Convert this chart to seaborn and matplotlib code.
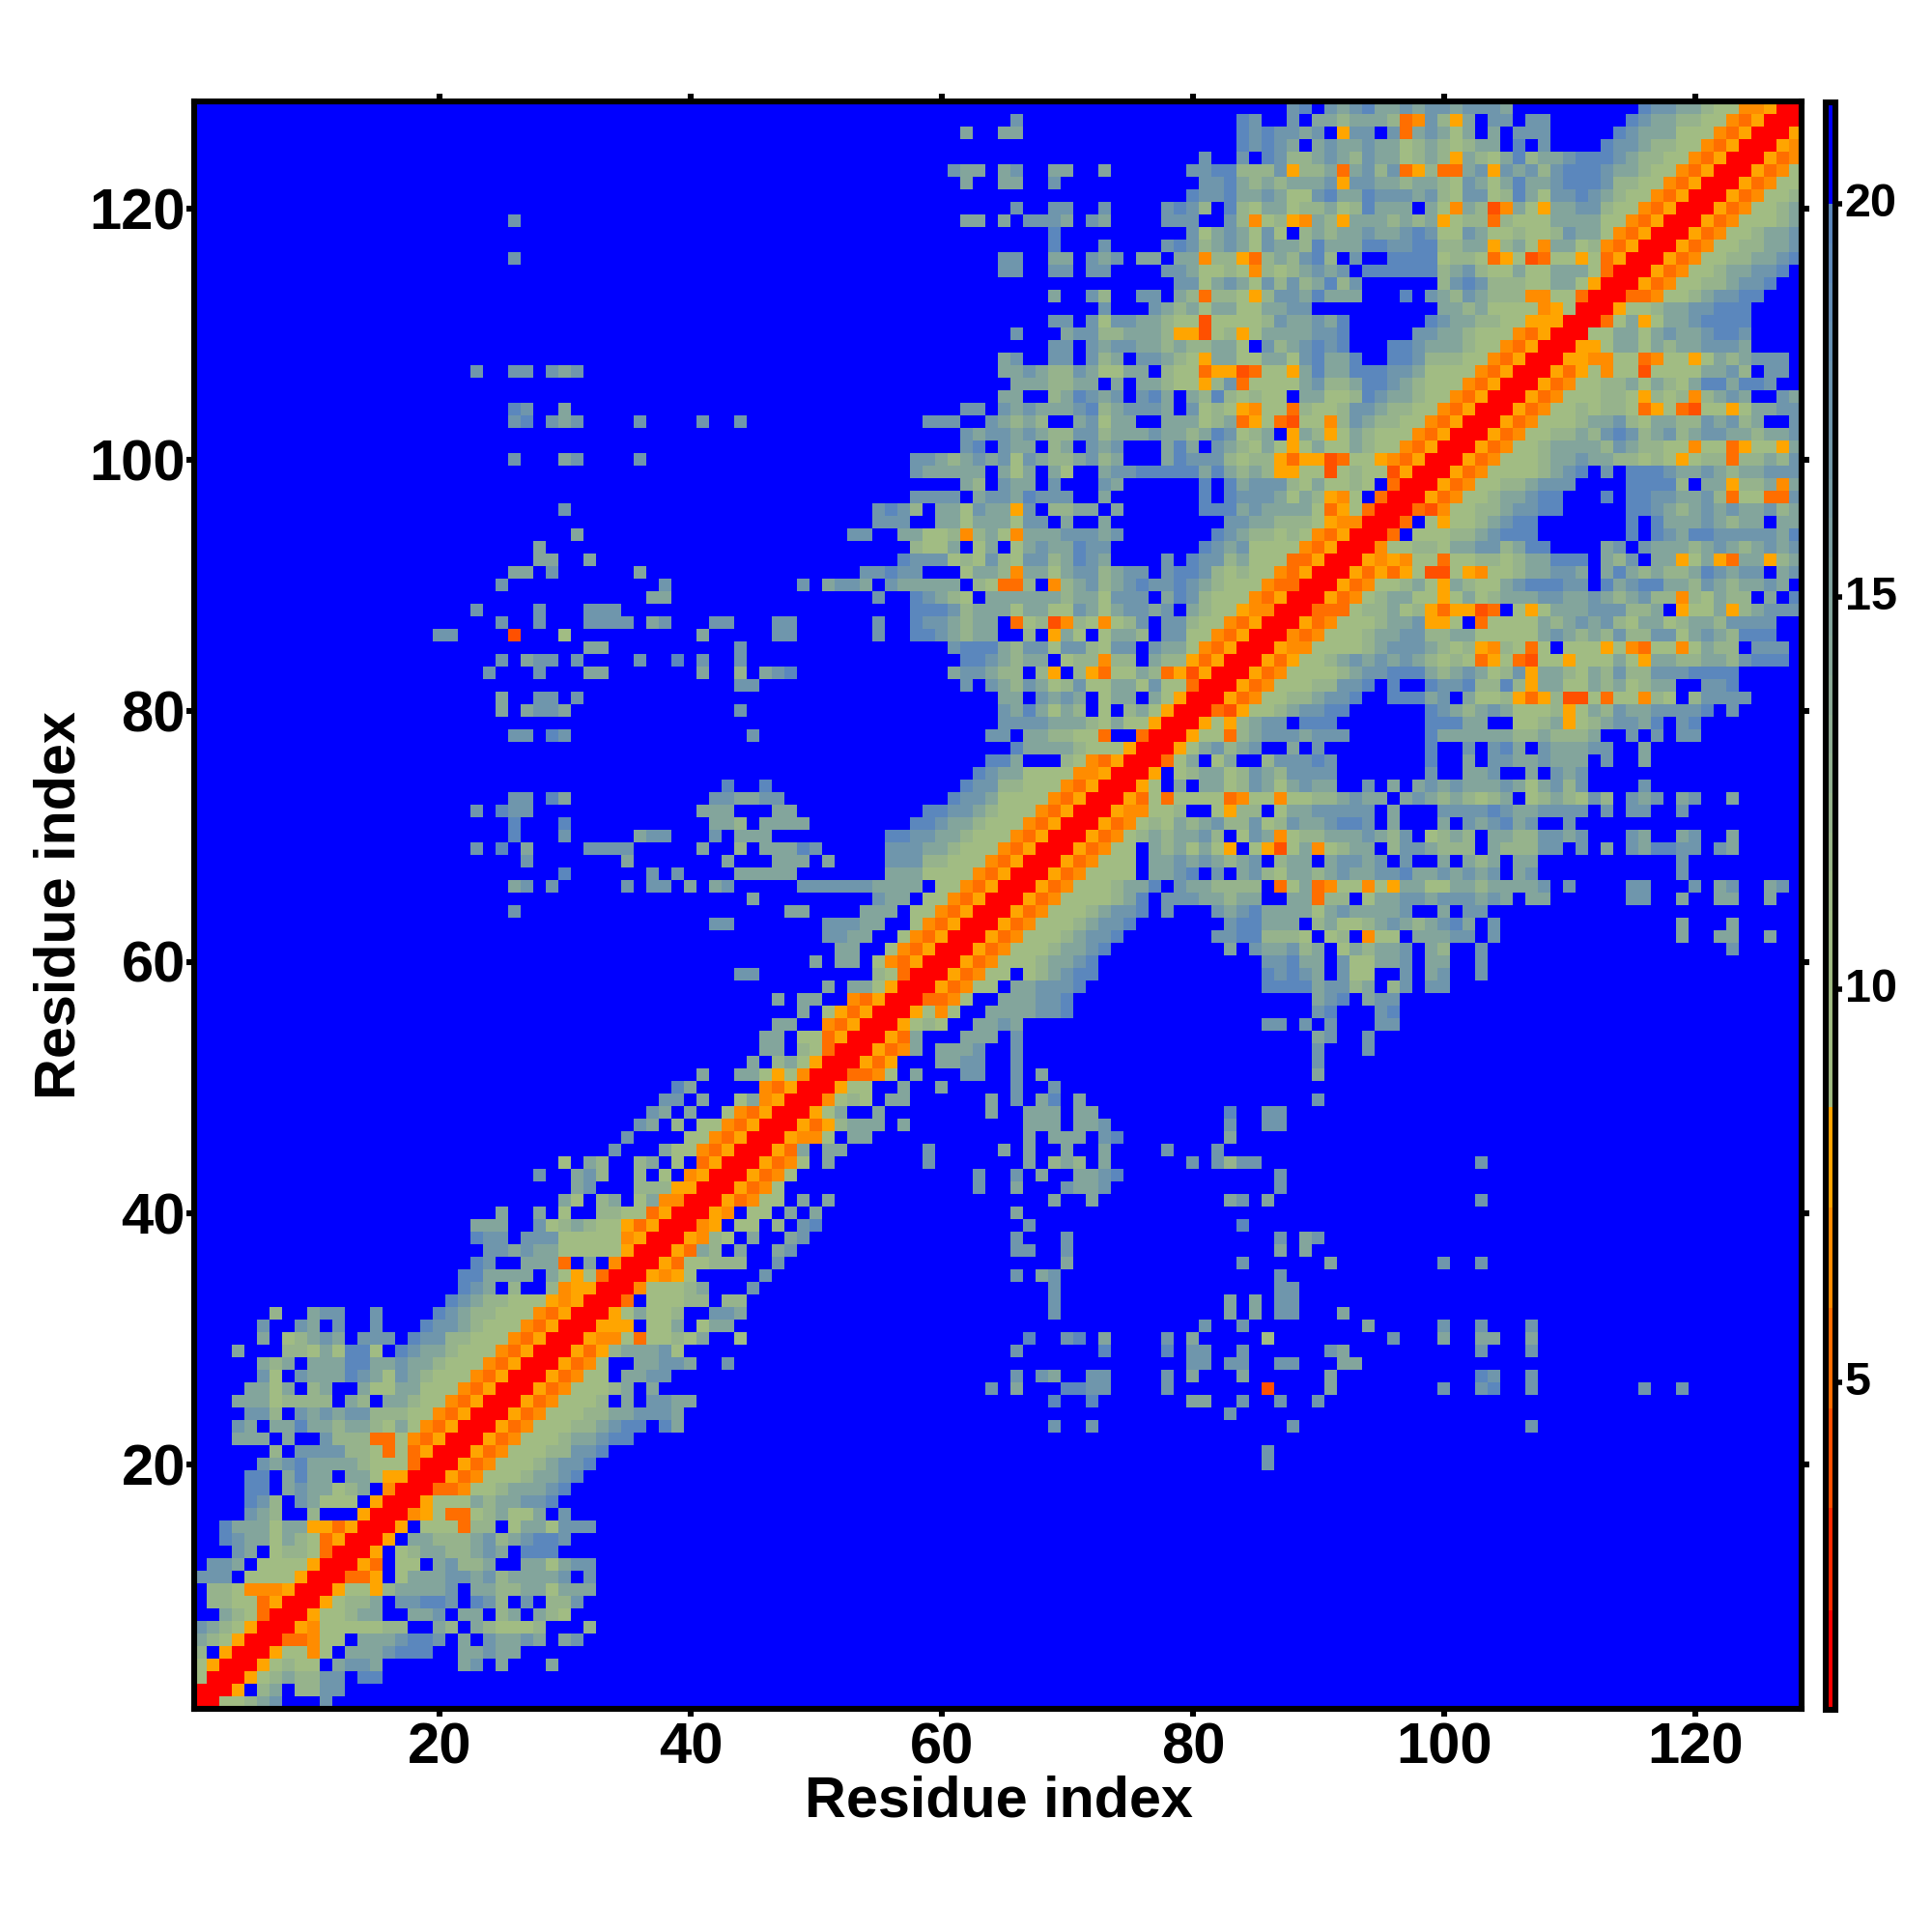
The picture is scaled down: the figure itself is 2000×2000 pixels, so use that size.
import numpy as np
import matplotlib
matplotlib.use("Agg")
import matplotlib.pyplot as plt
from matplotlib.colors import ListedColormap, BoundaryNorm, LinearSegmentedColormap
from matplotlib.transforms import ScaledTranslation
import seaborn as sns

N_RESIDUES = 128
# distance read for each colour class of the picture
CODE_VALUES = {'r': 1.5, 's': 2.8, 'q': 4.0, 't': 5.3, 'o': 6.6, 'y': 7.9,
               'g': 9.5, 'h': 12.0, 'i': 14.5, 'j': 17.0, 'k': 19.5, '.': 21.0}
# upper triangle of the symmetric map: row residue -> "first column:codes"
ROWS = {
1: "2:rgghij 11:j", 2: "3:ry.hi.hhjj", 3: "4:ryghihhjj.kk", 4: "5:ryghgg.ijji 22:ij.i 29:i",
5: "6:ryggog.iiijkkk 22:iijii", 6: "7:rttogg.iiijkkj 22:i.jiiji.ij",
7: "8:ryoggggghh..ih.ihgggh 32:h", 8: "9:rygghii..iij.ii.hi.ihg",
9: "10:ryghhi.jjkkj.kjh.j.hhj", 10: "11:ryggyhiiiij.iihhiigiii",
11: "12:rtty.giiijjijhiiiij.j", 12: "13:ryt.gg.ijhhi..iigijj",
13: "14:ry.ghiihhiji.kkk", 14: "15:ry.iihhhijhijkkj", 15: "16:ry.gggthh.giigjjj",
16: "17:roygttghiggi.j", 17: "18:rygggihiijjk", 18: "19:rttogghiiijk",
19: "20:rytoggghiijk", 20: "21:rytoggghijjk 86:j", 21: "22:rytoggghhjjk 86:j",
22: "23:rytoggghiijkk", 23: "24:rytoggghhijkk.ki 69:j 72:j 88:j 107:j",
24: "25:rytoggghhiijjji 83:j", 25: "26:rytogggh.i.jjii 69:k 72:k 80:ii 84:j 87:j 90:j",
26: "27:rytoggghi.i 64:j 66:i 70:kk 72:jj 78:j 86:q 91:i 100:j 103:jk 107:j 116:j 119:j",
27: "28:rytogg.iijj 66:j 68:ji 72:jj 78:j 80:i 84:i 91:i 103:kj 107:j",
28: "29:rytog..iijji 43:j 80:jj 83:jj 87:jj 92:ii",
29: "30:rytyhiiijg 66:j 73:k 78:k 80:jj 84:j 91:ji 103:j 107:j",
30: "31:ryoogtgghgi 44:g 67:k 70:jk 73:i 78:j 80:i 86:g 96:j 100:i 103:ii 107:i",
31: "32:ryyy.ggi.gii 81:j 84:j 94:i 100:j 103:j 107:j",
32: "33:rygiggh..jji 69:j 83:i 85:i 87:jj 92:i", 33: "34:rt.ggghh.hh 69:j 83:i 85:i 87:jj",
34: "35:roggghi 45:j 69:j 87:jj", 35: "36:ryoyg 46:j 66:j 68:ij 87:j",
36: "37:rytgghhh..j 70:i 84:j 91:i 100:j 103:j", 37: "38:rytih.i..ij 66:jj 70:j 87:i 89:i",
38: "39:ryohg.i..ij 66:j 70:j 87:j 89:ij", 39: "40:roy.gg.h.jk 67:j 84:k",
40: "41:ryo.gg.i.i 66:i", 41: "42:rytogg.i.i 69:i 72:i 83:ij 86:i 103:j",
42: "43:rytog 63:j 66:i 70:jiij 87:j", 43: "44:rytog 63:j 66:j 68:i 71:iijk 87:j",
44: "45:rytog.i 59:j 67:i 69:hih 73:i 80:j 82:jhjj 103:j",
45: "46:ryti.ii 59:j 65:i 67:i 70:i 73:i 78:j 82:j", 46: "47:ryoog.ii 67:i 69:iii 73:jk 83:i",
47: "48:rytyhiii.i 67:iii 71:iij 83:j 86:jj", 48: "49:rygi..i 64:i 67:iii 71:ii 83:k 86:jj",
49: "50:roghg.ii 64:i 66:j 68:ik 71:i 90:j", 50: "51:rygg..i 60:i 66:j 69:j",
51: "52:rttog.i 62:jj 66:j 68:i 90:i", 52: "53:ryty...iijj 66:j 90:j",
53: "54:rytoi.iiij 66:j 90:j 94:j", 54: "55:ryti 62:iii 66:j 90:ij 94:j",
55: "56:ryghg 63:iiji 86:jj.j.j 95:jj", 56: "57:rygog 64:iiiijjk 90:jk 95:jk",
57: "58:rttog 65:iiijjk 90:ijk.ijj", 58: "59:rytogg.iijjjk 86:kkkkijjhi.hj.jj",
59: "60:rytogg.ghijkk 86:kjkji.jgg..j.ij 103:j", 60: "61:rytoggghiijk 86:jjkii.jggiij.ii 103:j",
61: "62:rytoggghiijk 83:i.jiijhi.gihiij.ih 103:j 123:j",
62: "63:rytoggghijjk 82:jjkkhhhg.gh.ogg.iiijj.j 119:i 122:ii 126:i",
63: "64:rytoggghijjk 83:jkkiii.higghijihijki.j 119:i 123:i",
64: "65:rytoggghijjk 78:j 82:jijkiiiigijiiiij..i.jj",
65: "66:rytogggghik 78:jjjiihii..iithh.giijjijjjiji.ii 115:jj 119:i 122:ii 126:i",
66: "67:rytoggghiik 79:jiihhhh.tgitoggogyiiggiihiiiij.j 115:jj 120:j 122:ij 126:ij",
67: "68:rytogggg.iijk.j.ijhgiihijiijjkiijijij.ij 119:j",
68: "69:rytoggg.iijijihij.hii.ijjij.j..i.ihi.ii 119:j",
69: "70:rytogg.ihigigy.gyqgioghii.hjjihhh.ihhhjj.j 113:i 115:jikkjj 122:ji",
70: "71:rytoghihiijh.gjioghhiiijihj.ghih.iihhjjij 115:ji 119:ij 123:i",
71: "72:rytoghgihijhhjghjiijkkj.i...i.jijkij..j",
72: "73:ryooggh..gyhh.giijjjjj.i...jjjjkjiijjjj.j.jj..j",
73: "74:rytgtggggtoggogghhijii.ijihihghi.ghihgjh.jij.ij..i",
74: "75:ryg.i.iighjigijii..j.i.ijijiiijigijhj 116:j",
75: "76:ry.ghiighjihjjjj.......j..iij..i.jij",
76: "77:rtgi.gi..hjjjkj.......k..i.jjiijiii.j 116:i",
77: "78:rygijhij..i.j........k..j.jki.jiiijj 116:i",
78: "79:ryggthijjjijjj......kiiiiiihhihhhi..j.j.jj",
79: "80:rygyhijj.kkk.......kkkii..gghiyghijjik.jk",
80: "81:rtqygghijjkk......kjihijiggghygihjiijjjjk.j",
81: "82:rytogghhijjk..kkkij.igghytyhqqgtggohg.hjjjj",
82: "83:rytoggghhjjk.k..kjjkhhkhyiiggihighii..jjk",
83: "84:rytogggghijjkkkihijighjyiihgihjhhjjjkkkk",
84: "85:rytygghijijijihghgtygtqggygggigyiihhiihjkkk",
85: "86:ryoogggghijjjihghyohgtg.gggygotggogihh.jjj",
86: "87:rotoggghiijjhhiigggggijihihjhhjjgijihkkk",
87: "88:rytoggghiijyyg.tggggihijijhgiighiihjjjj",
88: "89:rtttghhighytyyqt.gygiiijjjhhi.yggiyhijjj",
89: "90:rytoghiiggygighiiijjiijihijhhohgihh.i.k",
90: "91:rytogghigyihggijkkkjj.kijkkiihjihiiji",
91: "92:rytytygqqgyogghiijji.ikihihhikjijj.ij",
92: "93:ryoyoggtgghhghiikkk.ihj.iiygiytiiyhi",
93: "94:rogghhgiijjhikk....ij.jiiihijihijij",
94: "95:rt.ggghhijkkk.......k.kjikkjjjjjik",
95: "96:rt.gygghijkk.......k.kiiijihii.ii",
96: "97:rtqogghhijjkk.....kkjihijijiijhi",
97: "98:rytogghiijkk...k.kkjjiijhtggttj",
98: "99:rytogghhijjj....kkkkh.iiyhhioi",
99: "100:rytogggghijk.j.kkkjiijihiijjj",
100: "101:rytoggghiijiihhghgyghhthhihj",
101: "102:rytogghiiiihjihhggoggtyggyi",
102: "103:rytogghhihjkjhijhijjiihiij",
103: "104:rytoggghiijhgiihhjijhi..j",
104: "105:rytogghghhgtygtqggygiijj",
105: "106:rytoggghhgyhghohiji..ji",
106: "107:rytogghhigihgikkikkj",
107: "108:rytygoggqggggiijh.jj",
108: "109:ryyooggtoggygihijjj",
109: "110:ryygiigihiijjji",
110: "111:rggiigijiijkkj",
111: "112:rtgiygiijkkkk",
112: "113:rygghiijjkkk",
113: "114:rttogghijjkk",
114: "115:rytogghhijjk",
115: "116:rytogghiijjk",
116: "117:rytogghhiijk",
117: "118:rytogghhiij",
118: "119:rytogghiij",
119: "120:rytoggghi",
120: "121:rytogghi",
121: "122:rytoggh",
122: "123:rytogg",
123: "124:rytog",
124: "125:ryto",
125: "126:ryo",
126: "127:ry",
127: "128:r",
}
XTICKS = [20, 40, 60, 80, 100, 120]
CBAR_TICKS = [5, 10, 15, 20]
WARM_EDGES = [0.83, 2.1, 3.4, 4.67, 5.95, 7.22, 8.5]
WARM_COLORS = ['#FF0000', '#FF2A00', '#FF5000', '#FF6E00', '#FF8C00', '#FFA500']
COOL_STOPS = ['#A1BC82', '#A0BB84', '#8FAE92', '#7FA1A0', '#6C94AE', '#5B87BD']
BLUE = '#0000FF'

matrix = np.full((N_RESIDUES, N_RESIDUES), CODE_VALUES['.'])
np.fill_diagonal(matrix, CODE_VALUES['r'])
for row, text in ROWS.items():
    for segment in text.split():
        start, codes = segment.split(':')
        for offset, code in enumerate(codes):
            col = int(start) + offset
            if col <= N_RESIDUES:
                matrix[row - 1, col - 1] = CODE_VALUES[code]
                matrix[col - 1, row - 1] = CODE_VALUES[code]

cool_edges = list(np.linspace(8.5, 20.0, 24))
edges = WARM_EDGES[:-1] + cool_edges + [21.3]
cool_map = LinearSegmentedColormap.from_list('cool', COOL_STOPS)
cool_cols = [cool_map(i / 22) for i in range(23)]
cmap = ListedColormap(WARM_COLORS + cool_cols + [BLUE])
norm = BoundaryNorm(edges, cmap.N)

sns.set_theme(style='white')
plt.rcParams['font.family'] = ['Liberation Sans', 'DejaVu Sans']
plt.rcParams['font.weight'] = 'bold'
W = H = 2000
fig = plt.figure(figsize=(10, 10), dpi=200, facecolor='white')


def rect(left, top, right, bottom):
    return [left / W, 1 - bottom / H, (right - left) / W, (bottom - top) / H]


ax = fig.add_axes(rect(201.4, 105.0, 1865.4, 1769.0))
cax = fig.add_axes(rect(1890, 105.5, 1900, 1770))
sns.heatmap(matrix, ax=ax, cmap=cmap, norm=norm, cbar_ax=cax,
            cbar_kws={'ticks': CBAR_TICKS, 'spacing': 'proportional', 'drawedges': False},
            xticklabels=False, yticklabels=False, linewidths=0)
ax.set_xlim(0, N_RESIDUES)
ax.set_ylim(0, N_RESIDUES)
ax.set_xticks([t - 0.5 for t in XTICKS], [str(t) for t in XTICKS])
ax.set_yticks([t - 0.5 for t in XTICKS], [str(t) for t in XTICKS])
ax.tick_params(axis='both', which='major', direction='out', length=3, width=2.2, color='black',
               labelsize=21.5, top=True, right=True, bottom=True, left=True,
               labeltop=False, labelright=False, labelcolor='black')
ax.tick_params(axis='x', pad=2)
ax.tick_params(axis='y', pad=0.4)
for line in ax.xaxis.get_ticklines() + ax.yaxis.get_ticklines():
    line.set_solid_capstyle('round')
for spine in ax.spines.values():
    spine.set_visible(True)
    spine.set_linewidth(2.2)
    spine.set_color('black')
for label in ax.get_xticklabels() + ax.get_yticklabels():
    label.set_fontweight('bold')
ax.set_xlabel('Residue index', fontsize=21.4, fontweight='bold', color='black')
ax.set_ylabel('Residue index', fontsize=21.4, fontweight='bold', color='black')
ax.xaxis.set_label_coords(0.5003, -0.0412)
ax.yaxis.set_label_coords(-0.0672, 0.5)

cbar = ax.collections[0].colorbar
cbar.ax.minorticks_off()
cbar.ax.tick_params(axis='y', which='major', length=2.5, width=2, color='black', labelsize=17.5, pad=1,
                    labelcolor='black', right=True, left=False)
cbar.outline.set_linewidth(2.2)
cbar.outline.set_edgecolor('black')
lift = ScaledTranslation(0, 4.5 / 200, fig.dpi_scale_trans)
for label in cbar.ax.get_yticklabels():
    label.set_fontweight('bold')
    label.set_transform(label.get_transform() + lift)

fig.savefig('out.png', dpi=200, facecolor='white')
